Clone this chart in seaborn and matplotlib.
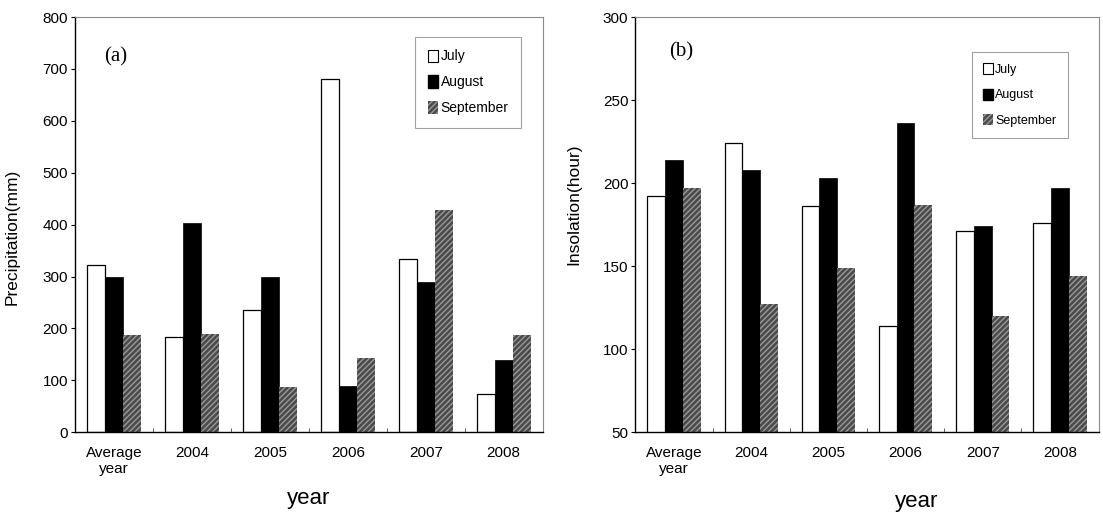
import pandas as pd
import seaborn as sns
import matplotlib.pyplot as plt
from matplotlib.patches import Patch
from matplotlib.ticker import FixedLocator

years = ['Average\nyear', '2004', '2005', '2006', '2007', '2008']
months = ['July', 'August', 'September']

# precipitation (mm)
precip_july = [322, 183, 235, 680, 333, 73]
precip_aug = [300, 404, 300, 90, 290, 140]
precip_sep = [188, 190, 88, 143, 428, 188]

# insolation (hour)
insol_july = [192, 224, 186, 114, 171, 176]
insol_aug = [214, 208, 203, 236, 174, 197]
insol_sep = [197, 127, 149, 187, 120, 144]


def to_long(july, aug, sep):
    rows = []
    for m, vals in zip(months, [july, aug, sep]):
        for y, v in zip(years, vals):
            rows.append({'year': y, 'month': m, 'value': v})
    return pd.DataFrame(rows)


sns.set_style('white')
plt.rcParams['font.family'] = ['Liberation Sans', 'DejaVu Sans']
plt.rcParams['text.color'] = 'black'
plt.rcParams['axes.labelcolor'] = 'black'
plt.rcParams['xtick.color'] = 'black'
plt.rcParams['ytick.color'] = 'black'

fig = plt.figure(figsize=(11.03, 5.17), dpi=100)
ax1 = fig.add_axes([0.068, 0.164, 0.424, 0.803])
ax2 = fig.add_axes([0.576, 0.164, 0.420, 0.803])

palette = {'July': 'white', 'August': 'black', 'September': '#4a4a4a'}


def draw(ax, df, ylim, yticks, ylabel, panel, panel_xy, leg_box, leg_fs, leg_sp):
    sns.barplot(data=df, x='year', y='value', hue='month', hue_order=months,
                order=years, palette=palette, width=0.69, legend=False,
                ax=ax, saturation=1)
    conts = ax.containers
    for p in conts[0]:
        p.set_edgecolor('black')
        p.set_linewidth(0.9)
    for p in conts[1]:
        p.set_edgecolor('black')
        p.set_linewidth(0.5)
    for p in conts[2]:
        p.set_hatch('//////')
        p.set_edgecolor('#999999')
        p.set_linewidth(0)
    ax.set_xlim(-0.5, 5.5)
    ax.set_ylim(*ylim)
    ax.set_yticks(yticks)
    ax.tick_params(axis='y', length=3, width=0.8, direction='out',
                   labelsize=11, pad=2, left=True)
    ax.tick_params(axis='x', which='major', length=0, labelsize=11, pad=10)
    ax.xaxis.set_minor_locator(FixedLocator([0.5, 1.5, 2.5, 3.5, 4.5]))
    ax.tick_params(axis='x', which='minor', length=3, direction='in',
                   bottom=True, color='#444444')
    for s in ['left', 'bottom']:
        ax.spines[s].set_color('black')
        ax.spines[s].set_linewidth(1.0)
    for s in ['top', 'right']:
        ax.spines[s].set_color('#8a8a8a')
        ax.spines[s].set_linewidth(0.8)
    ax.set_ylabel(ylabel, fontsize=12.5)
    ax.set_xlabel('year', fontsize=16)
    ax.text(*panel_xy, panel, transform=ax.transAxes, fontsize=15,
            family=['Liberation Serif', 'DejaVu Serif'], va='center', ha='center')
    handles = [Patch(facecolor='white', edgecolor='black', linewidth=0.8, label='July'),
               Patch(facecolor='black', edgecolor='black', label='August'),
               Patch(facecolor='#4a4a4a', edgecolor='#999999', linewidth=0,
                     hatch='//////', label='September')]
    leg = ax.legend(handles=handles, loc='upper left', bbox_to_anchor=leg_box,
                    fontsize=leg_fs, frameon=True, fancybox=False,
                    handlelength=0.75, handleheight=1.0, handletextpad=0.2,
                    labelspacing=leg_sp, borderpad=0.9, borderaxespad=0)
    leg.get_frame().set_edgecolor('#8a8a8a')
    leg.get_frame().set_linewidth(0.8)


draw(ax1, to_long(precip_july, precip_aug, precip_sep), (0, 800),
     range(0, 801, 100), 'Precipitation(mm)', '(a)', (0.088, 0.904),
     (0.727, 0.952), 10, 0.85)
ax1.yaxis.set_label_coords(-0.118, 0.47)
ax1.xaxis.set_label_coords(0.5, -0.135)

draw(ax2, to_long(insol_july, insol_aug, insol_sep), (50, 300),
     range(50, 301, 50), 'Insolation(hour)', '(b)', (0.098, 0.916),
     (0.727, 0.916), 9, 1.0)
ax2.yaxis.set_label_coords(-0.116, 0.55)
ax2.xaxis.set_label_coords(0.607, -0.142)

plt.savefig('out.png', dpi=100)
